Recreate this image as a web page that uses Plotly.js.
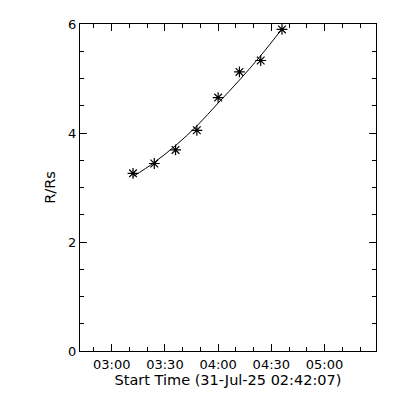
<!DOCTYPE html>
<html>
<head>
<meta charset="utf-8">
<script src="https://cdn.plot.ly/plotly-3.0.1.min.js"></script>
<style>
html,body{margin:0;padding:0;background:#fff;}
#chart{width:400px;height:400px;}
</style>
</head>
<body>
<div id="chart"></div>
<script>
// Observation times (31-Jul-2025) and measured heights (R/Rs)
var obsTimes = ["2025-07-31 03:12:00","2025-07-31 03:24:00","2025-07-31 03:36:00","2025-07-31 03:48:00",
                "2025-07-31 04:00:00","2025-07-31 04:12:00","2025-07-31 04:24:00","2025-07-31 04:36:00"];
var heights = [3.26, 3.44, 3.69, 4.05, 4.65, 5.12, 5.33, 5.90];
// Fitted curve values read at the same times
var fitHeights = [3.20, 3.46, 3.77, 4.13, 4.55, 4.97, 5.42, 5.91];
var xRange = ["2025-07-31 02:42:07", "2025-07-31 05:29:00"];
var yRange = [0, 6];
var xTitle = "Start Time (31-Jul-25 02:42:07)";
var yTitle = "R/Rs";

var tickFnt = {family: "DejaVu Sans", size: 13, color: "#000"};
var titleFnt = {family: "DejaVu Sans", size: 14.5, color: "#000"};

var traces = [
  {x: obsTimes, y: fitHeights, mode: "lines", type: "scatter",
   line: {color: "#000", width: 1, shape: "spline"}, hoverinfo: "skip"},
  {x: obsTimes, y: heights, mode: "markers", type: "scatter",
   marker: {symbol: "asterisk-open", size: 9, color: "#000", line: {color: "#000", width: 1.2}}}
];

var layout = {
  width: 400, height: 400,
  margin: {l: 80, r: 24, t: 24, b: 49},
  paper_bgcolor: "#fff", plot_bgcolor: "#fff",
  showlegend: false,
  font: tickFnt,
  xaxis: {
    type: "date", range: xRange,
    tick0: "2025-07-31 03:00:00", dtick: 30*60*1000, tickformat: "%H:%M",
    ticks: "inside", ticklen: 7, tickcolor: "#000", tickwidth: 1,
    minor: {ticks: "inside", ticklen: 4, dtick: 10*60*1000, tickcolor: "#000", tickwidth: 1},
    showline: true, linecolor: "#000", linewidth: 1, mirror: "ticks",
    showgrid: false, zeroline: false,
    tickfont: tickFnt, ticklabelstandoff: 1,
    title: {text: xTitle, font: titleFnt, standoff: 2}
  },
  yaxis: {
    range: yRange, tick0: 0, dtick: 2,
    ticks: "inside", ticklen: 7, tickcolor: "#000", tickwidth: 1,
    minor: {ticks: "inside", ticklen: 4, dtick: 0.5, tickcolor: "#000", tickwidth: 1},
    showline: true, linecolor: "#000", linewidth: 1, mirror: "ticks",
    showgrid: false, zeroline: false,
    tickfont: tickFnt,
    title: {text: yTitle, font: titleFnt, standoff: 9}
  }
};

Plotly.newPlot("chart", traces, layout, {displayModeBar: false, staticPlot: true});
</script>
</body>
</html>
